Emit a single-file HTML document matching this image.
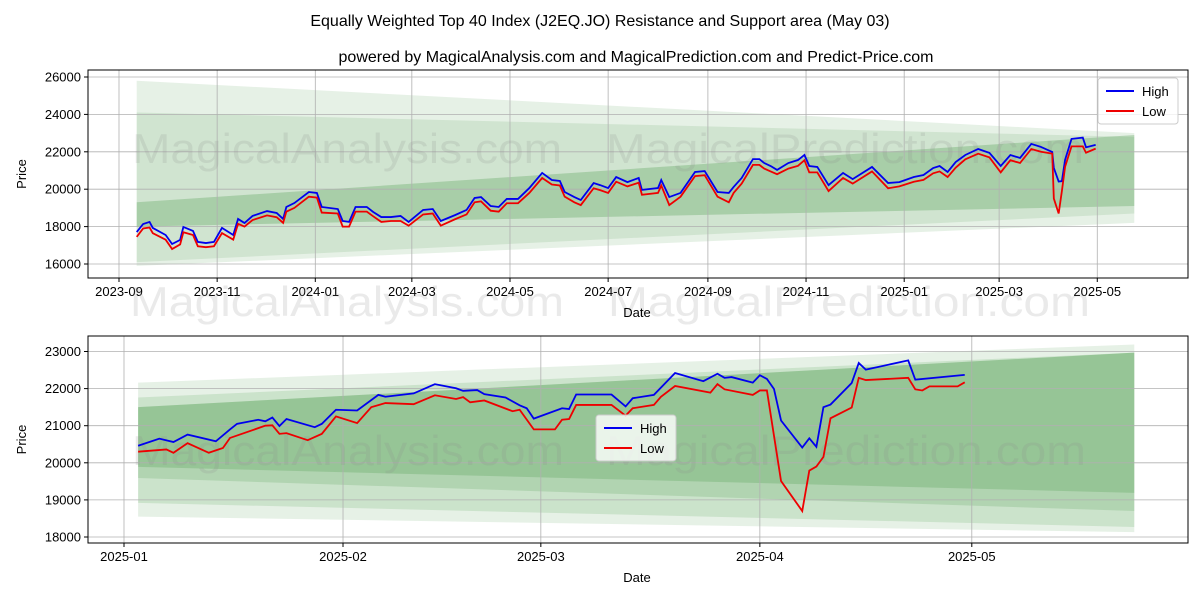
<!DOCTYPE html>
<html><head><meta charset="utf-8"><style>
body{margin:0;background:#fff;}
svg text{font-family:"Liberation Sans","DejaVu Sans",sans-serif;}
</style></head><body>
<svg id="c" width="1200" height="600" viewBox="0 0 1200 600" xmlns="http://www.w3.org/2000/svg">
<rect width="1200" height="600" fill="#fff"/>
<text x="600" y="26" text-anchor="middle" font-size="16">Equally Weighted Top 40 Index (J2EQ.JO) Resistance and Support area (May 03)</text>
<text x="636" y="62" text-anchor="middle" font-size="16">powered by MagicalAnalysis.com and MagicalPrediction.com and Predict-Price.com</text>
<g id="top"></g>
<g id="bot"></g>
</svg>
<script>
// ---- top panel data ----
const topDates=["2023-09-12","2023-09-16","2023-09-20","2023-09-22","2023-09-30","2023-10-04","2023-10-09","2023-10-11","2023-10-17","2023-10-20","2023-10-25","2023-10-30","2023-11-04","2023-11-11","2023-11-14","2023-11-18","2023-11-23","2023-12-02","2023-12-08","2023-12-12","2023-12-14","2023-12-19","2023-12-28","2024-01-02","2024-01-05","2024-01-15","2024-01-18","2024-01-22","2024-01-26","2024-02-02","2024-02-06","2024-02-11","2024-02-17","2024-02-23","2024-02-28","2024-03-08","2024-03-14","2024-03-19","2024-03-28","2024-04-04","2024-04-09","2024-04-13","2024-04-19","2024-04-24","2024-04-29","2024-05-06","2024-05-13","2024-05-21","2024-05-27","2024-06-01","2024-06-04","2024-06-10","2024-06-14","2024-06-22","2024-06-26","2024-07-01","2024-07-06","2024-07-13","2024-07-20","2024-07-22","2024-08-01","2024-08-03","2024-08-08","2024-08-15","2024-08-24","2024-08-30","2024-09-07","2024-09-14","2024-09-17","2024-09-22","2024-09-29","2024-10-03","2024-10-06","2024-10-10","2024-10-14","2024-10-21","2024-10-27","2024-10-31","2024-11-03","2024-11-08","2024-11-15","2024-11-24","2024-11-30","2024-12-12","2024-12-22","2024-12-29","2025-01-07","2025-01-13","2025-01-19","2025-01-23","2025-01-28","2025-02-02","2025-02-08","2025-02-16","2025-02-23","2025-03-02","2025-03-08","2025-03-14","2025-03-21","2025-03-27","2025-04-03","2025-04-04","2025-04-07","2025-04-09","2025-04-11","2025-04-15","2025-04-22","2025-04-24","2025-04-30"];
const topHigh=[17710,18140,18250,17930,17550,17070,17290,17980,17770,17180,17120,17180,17930,17550,18410,18190,18570,18830,18730,18410,19050,19260,19850,19800,19050,18940,18300,18250,19050,19050,18780,18510,18510,18570,18250,18890,18940,18300,18620,18890,19530,19580,19100,19050,19480,19480,20060,20870,20490,20440,19850,19580,19420,20330,20220,20060,20650,20380,20600,19960,20060,20490,19580,19800,20920,20970,19850,19800,20120,20600,21610,21610,21400,21240,21030,21400,21560,21830,21240,21190,20220,20870,20540,21190,20330,20380,20650,20760,21130,21240,20920,21450,21830,22150,21940,21240,21830,21670,22420,22260,21990,21140,20410,20430,21570,22690,22760,22240,22370];
const topLow=[17450,17900,17950,17650,17300,16800,17050,17700,17550,16950,16900,16950,17650,17300,18150,18000,18350,18600,18500,18200,18800,19000,19600,19550,18750,18700,18000,18000,18800,18800,18550,18250,18300,18300,18050,18650,18700,18050,18400,18650,19300,19350,18850,18800,19250,19250,19800,20600,20250,20200,19600,19300,19150,20050,19950,19800,20400,20150,20350,19700,19800,20200,19150,19600,20700,20750,19600,19300,19800,20300,21300,21300,21100,20950,20800,21100,21250,21550,20900,20900,19900,20600,20300,20950,20050,20150,20400,20500,20850,20950,20650,21150,21600,21900,21700,20900,21550,21400,22150,22000,21900,19500,18700,19900,21200,22290,22290,21950,22170];
const topBandStart=[[15900,25800],[16100,24100],[18000,19300]];
const topBandEnd=[[18200,23000],[18700,22800],[19100,22900]];
const topYTicks=[16000,18000,20000,22000,24000,26000];
const topXTicks=["2023-09-01","2023-11-01","2024-01-01","2024-03-01","2024-05-01","2024-07-01","2024-09-01","2024-11-01","2025-01-01","2025-03-01","2025-05-01"];
// ---- bottom panel data ----
const botDatesH=["2025-01-03","2025-01-06","2025-01-08","2025-01-10","2025-01-14","2025-01-16","2025-01-17","2025-01-20","2025-01-21","2025-01-22","2025-01-23","2025-01-24","2025-01-28","2025-01-29","2025-01-31","2025-02-03","2025-02-06","2025-02-07","2025-02-11","2025-02-14","2025-02-17","2025-02-18","2025-02-20","2025-02-21","2025-02-24","2025-02-26","2025-02-27","2025-02-28","2025-03-04","2025-03-05","2025-03-06","2025-03-11","2025-03-13","2025-03-14","2025-03-17","2025-03-20","2025-03-24","2025-03-26","2025-03-27","2025-03-28","2025-03-31","2025-04-01","2025-04-02","2025-04-03","2025-04-04","2025-04-07","2025-04-08","2025-04-09","2025-04-10","2025-04-11","2025-04-14","2025-04-15","2025-04-16","2025-04-22","2025-04-23","2025-04-30"];
const botHigh=[20460,20650,20560,20760,20580,20900,21050,21160,21120,21220,20990,21180,20960,21050,21430,21410,21830,21780,21870,22120,22010,21940,21960,21850,21760,21550,21470,21190,21470,21450,21840,21840,21520,21740,21830,22420,22200,22400,22290,22310,22160,22360,22260,21990,21140,20410,20660,20430,21500,21570,22150,22690,22510,22760,22240,22370];
const botDatesL=["2025-01-03","2025-01-07","2025-01-08","2025-01-10","2025-01-13","2025-01-15","2025-01-16","2025-01-21","2025-01-22","2025-01-23","2025-01-24","2025-01-27","2025-01-29","2025-01-31","2025-02-03","2025-02-05","2025-02-07","2025-02-11","2025-02-14","2025-02-17","2025-02-18","2025-02-19","2025-02-21","2025-02-25","2025-02-26","2025-02-28","2025-03-03","2025-03-04","2025-03-05","2025-03-06","2025-03-11","2025-03-13","2025-03-14","2025-03-17","2025-03-18","2025-03-20","2025-03-25","2025-03-26","2025-03-27","2025-03-31","2025-04-01","2025-04-02","2025-04-04","2025-04-07","2025-04-08","2025-04-09","2025-04-10","2025-04-11","2025-04-14","2025-04-15","2025-04-16","2025-04-22","2025-04-23","2025-04-24","2025-04-25","2025-04-29","2025-04-30"];
const botLow=[20300,20360,20270,20530,20270,20400,20670,21000,21010,20780,20800,20610,20780,21250,21070,21500,21610,21580,21820,21720,21770,21630,21680,21390,21430,20900,20900,21160,21180,21560,21560,21270,21470,21560,21780,22070,21890,22120,21980,21830,21950,21950,19510,18700,19790,19900,20160,21200,21490,22290,22230,22290,21980,21950,22060,22060,22170];
const botBandStart=[[18550,22160],[18920,21760],[19590,21500],[19890,21500]];
const botBandEnd=[[18130,23190],[18270,22970],[18700,22970],[19190,22970]];
const botYTicks=[18000,19000,20000,21000,22000,23000];
const botXTicks=["2025-01-01","2025-02-01","2025-03-01","2025-04-01","2025-05-01"];
const bandStartDate="2023-09-12", bandEndDate="2025-05-24", botBandStartDate="2025-01-03";

const NS="http://www.w3.org/2000/svg";
function el(p,t,a){const e=document.createElementNS(NS,t);for(const k in a)e.setAttribute(k,a[k]);p.appendChild(e);return e;}
const day=s=>Date.parse(s+"T00:00:00Z")/864e5;

function panel(g,o){
  const X=d=>o.x0+(day(d)-day(o.d0))*o.pxd;
  const Y=v=>o.y0-(v-o.v0)*o.pxv;
  // bands
  const bs=o.bandsS, be=o.bandsE, ops=o.op;
  for(let i=0;i<bs.length;i++){
    const xs=X(o.bd0), xe=X(bandEndDate);
    const p=el(g,"polygon",{points:`${xs},${Y(bs[i][1])} ${xe},${Y(be[i][1])} ${xe},${Y(be[i][0])} ${xs},${Y(bs[i][0])}`,fill:"#2e8b2e","fill-opacity":ops[i]});
    
    
  }
  // grid
  o.yt.forEach(v=>{
    const l=el(g,"line",{x1:88,x2:1188,y1:Y(v),y2:Y(v),stroke:"#b0b0b0","stroke-width":0.8});
    
    
    el(g,"line",{x1:84,x2:88,y1:Y(v),y2:Y(v),stroke:"#000"});
    const t=el(g,"text",{x:81,y:Y(v)+4.5,"text-anchor":"end","font-size":13});
    t.textContent=v;
    
    
  });
  o.xt.forEach(d=>{
    const l=el(g,"line",{x1:X(d),x2:X(d),y1:o.top,y2:o.bot,stroke:"#b0b0b0","stroke-width":0.8});
    
    
    el(g,"line",{x1:X(d),x2:X(d),y1:o.bot,y2:o.bot+4,stroke:"#000"});
    const t=el(g,"text",{x:X(d),y:o.bot+18,"text-anchor":"middle","font-size":13});
    t.textContent=d.slice(0,7);
    
    
  });
  // watermark
  o.wm.forEach(w=>{
    const t=el(g,"text",{x:w[0],y:w[1],"font-size":42,fill:"#888","fill-opacity":0.18,textLength:w[3],lengthAdjust:"spacingAndGlyphs"});
    t.textContent=w[2];
    
    
  });
  // lines
  const hp=el(g,"polyline",{points:o.dh.map((d,i)=>X(d)+","+Y(o.hi[i])).join(" "),fill:"none",stroke:"#0000ee","stroke-width":1.8});
  
  
  const lp=el(g,"polyline",{points:o.dl.map((d,i)=>X(d)+","+Y(o.lo[i])).join(" "),fill:"none",stroke:"#ee0000","stroke-width":1.8});
  
  
  const fr=el(g,"rect",{x:88,y:o.top,width:1100,height:o.bot-o.top,fill:"none",stroke:"#000","stroke-width":1});
  
  
  const yl=el(g,"text",{x:0,y:0,"font-size":13,"text-anchor":"middle",transform:`translate(26,${(o.top+o.bot)/2}) rotate(-90)`});
  yl.textContent="Price";
  
  
  const xl=el(g,"text",{x:637,y:o.bot+39,"font-size":13,"text-anchor":"middle"});
  xl.textContent="Date";
  
  
  // legend
  const lg=el(g,"g",{});
  
  
  const [lx,ly]=o.leg;
  el(lg,"rect",{x:lx,y:ly,width:80,height:46,rx:3,fill:"#fff","fill-opacity":0.8,stroke:"#ccc"});
  el(lg,"line",{x1:lx+8,x2:lx+36,y1:ly+13,y2:ly+13,stroke:"#0000ee","stroke-width":2});
  el(lg,"line",{x1:lx+8,x2:lx+36,y1:ly+33,y2:ly+33,stroke:"#ee0000","stroke-width":2});
  const t1=el(lg,"text",{x:lx+44,y:ly+18,"font-size":13});t1.textContent="High";
  
  
  const t2=el(lg,"text",{x:lx+44,y:ly+38,"font-size":13});t2.textContent="Low";
  
  
}
panel(document.getElementById("top"),{x0:119,d0:"2023-09-01",pxd:1.609,y0:264,v0:16000,pxv:0.0187,top:70,bot:278,
 bandsS:topBandStart,bandsE:topBandEnd,bd0:bandStartDate,op:[0.12,0.12,0.25],yt:topYTicks,xt:topXTicks,
 dh:topDates,hi:topHigh,dl:topDates,lo:topLow,leg:[1098,78],
 wm:[[132,163,"MagicalAnalysis.com",430],[606,163,"MagicalPrediction.com",478],[130,316,"MagicalAnalysis.com",434],[608,316,"MagicalPrediction.com",482]]});
panel(document.getElementById("bot"),{x0:124,d0:"2025-01-01",pxd:7.065,y0:537,v0:18000,pxv:0.0371,top:336,bot:543,
 bandsS:botBandStart,bandsE:botBandEnd,bd0:botBandStartDate,op:[0.12,0.14,0.16,0.2],yt:botYTicks,xt:botXTicks,
 dh:botDatesH,hi:botHigh,dl:botDatesL,lo:botLow,leg:[596,415],
 wm:[[132,465,"MagicalAnalysis.com",432],[606,465,"MagicalPrediction.com",480]]});
</script>
</body></html>
